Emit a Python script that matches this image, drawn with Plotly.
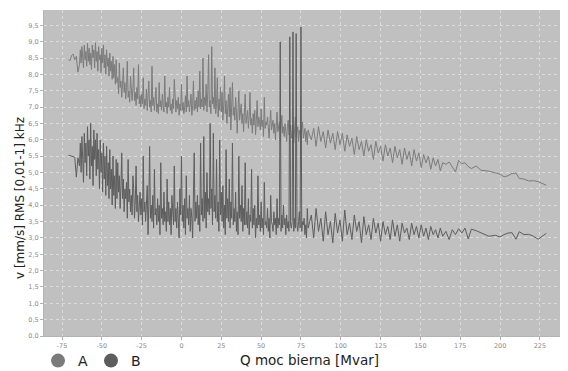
import plotly.graph_objects as go

# Q moc bierna [Mvar] (shared x values)
q = [
    -71, -70, -69, -68, -67, -66, -65,
    -64, -63.5, -63, -62.5, -62, -61.5, -61, -60.5, -60, -59.5,
    -59, -58.5, -58, -57.5, -57, -56.5, -56, -55.5, -55, -54.5,
    -54, -53.5, -53, -52.5, -52, -51.5, -51, -50.5, -50, -49.5,
    -49, -48.5, -48, -47.5, -47, -46.5, -46, -45.5, -45, -44.5,
    -44, -43.5, -43, -42.5, -42, -41.5, -41, -40.5,
    -40, -39.5, -39, -38.5, -38, -37.5, -37, -36.5, -36, -35.5,
    -35, -34.5, -34, -33.5, -33, -32.5, -32, -31.5, -31, -30.5,
    -30, -29.5, -29, -28.5, -28, -27.5, -27, -26.5, -26, -25.5,
    -25, -24.5, -24, -23.5, -23, -22.5, -22, -21.5, -21, -20.5,
    -20, -19.5, -19, -18.5, -18, -17.5, -17, -16.5, -16, -15.5,
    -15, -14.5, -14, -13.5, -13, -12.5, -12, -11.5, -11, -10.5,
    -10, -9.5, -9, -8.5, -8, -7.5, -7, -6.5, -6, -5.5,
    -5, -4.5, -4, -3.5, -3, -2.5, -2, -1.5, -1, -0.5,
    0, 0.5, 1, 1.5, 2, 2.5, 3, 3.5, 4, 4.5,
    5, 5.5, 6, 6.5, 7, 7.5, 8, 8.5, 9, 9.5,
    10, 10.5, 11, 11.5, 12, 12.5, 13, 13.5, 14, 14.5,
    15, 15.5, 16, 16.5, 17, 17.5, 18, 18.5, 19, 19.5,
    20, 20.5, 21, 21.5, 22, 22.5, 23, 23.5, 24, 24.5,
    25, 25.5, 26, 26.5, 27, 27.5, 28, 28.5, 29, 29.5,
    30, 30.5, 31, 31.5, 32, 32.5, 33, 33.5, 34, 34.5,
    35, 35.5, 36, 36.5, 37, 37.5, 38, 38.5, 39, 39.5,
    40, 40.5, 41, 41.5, 42, 42.5, 43, 43.5, 44, 44.5,
    45, 45.5, 46, 46.5, 47, 47.5, 48, 48.5, 49, 49.5,
    50, 50.5, 51, 51.5, 52, 52.5, 53, 53.5, 54, 54.5,
    55, 55.5, 56, 56.5, 57, 57.5, 58, 58.5, 59, 59.5,
    60, 60.5, 61, 61.5, 62, 62.5, 63, 63.5, 64, 64.5,
    65, 65.5, 66, 66.5, 67, 67.5, 68, 68.5, 69, 69.5,
    70, 70.5, 71, 71.5, 72, 72.5, 73, 73.5, 74, 74.5,
    75, 75.5, 76, 76.5, 77, 77.5, 78, 78.5, 79, 79.5,
    80,
    81.5, 83, 84.5, 86, 87.5, 89, 90.5, 92, 93.5, 95,
    96.5, 98, 99.5, 101, 102.5, 104, 105.5, 107, 108.5, 110,
    111.5, 113, 114.5, 116, 117.5, 119, 120.5, 122, 123.5, 125,
    126.5, 128, 129.5, 131, 132.5, 134, 135.5, 137, 138.5, 140,
    141.5, 143, 144.5, 146, 147.5, 149, 150.5, 152, 153.5, 155,
    156.5, 158, 159.5, 161, 162.5, 164,
    166, 168, 170, 172, 174, 176, 178, 180, 182, 185,
    188, 193, 197, 200, 202.5, 205, 207.5, 210, 212, 215,
    218, 221, 224, 229,
]

# Series A: v [mm/s] RMS
v_a = [
    8.48, 8.42, 8.58, 8.62, 8.45, 8.55, 8.07,
    8.3, 8.75, 8.35, 8.85, 8.5, 8.2, 8.9, 8.45, 8.7, 8.25,
    8.95, 8.4, 8.8, 8.3, 8.65, 8.15, 8.9, 8.5, 8.75, 8.2,
    8.97, 8.4, 8.7, 8.1, 8.85, 8.45, 8.6, 8.05, 8.8, 8.35,
    8.9, 8.2, 8.6, 8.0, 8.75, 8.25, 8.5, 7.95, 8.65, 8.1,
    8.4, 7.85, 8.55, 7.9, 8.3, 7.7, 8.45, 7.75,
    7.9, 7.4, 8.35, 7.6, 7.8, 7.3, 7.7, 8.2, 7.45, 7.75,
    7.25, 7.6, 8.4, 7.3, 7.5, 7.15, 7.95, 7.4, 7.2, 7.55,
    8.2, 7.2, 7.45, 7.05, 7.6, 7.25, 8.3, 7.1, 7.35, 7.0,
    7.4, 7.1, 7.9, 6.95, 7.25, 7.05, 7.55, 6.9, 7.3, 7.8,
    7.0, 7.2, 6.85, 8.25, 7.05, 7.3, 6.9, 7.15, 7.6, 6.85,
    7.1, 6.8, 7.75, 7.0, 7.2, 6.9, 7.4, 7.05, 6.85, 7.95,
    7.0, 7.15, 6.8, 7.3, 7.0, 7.6, 6.9, 7.1, 6.8, 7.25,
    6.95, 7.85, 7.0, 6.85, 7.2, 6.95, 7.3, 6.75, 7.1, 6.9,
    7.7, 6.9, 7.15, 6.8, 7.0, 7.35, 6.85, 7.95, 7.0, 7.2,
    6.85, 7.1, 7.4, 6.75, 7.05, 7.8, 6.9, 7.2, 6.95, 7.3,
    6.85, 7.5, 7.0, 8.1, 6.95, 7.25, 7.0, 8.5, 6.9, 7.3,
    7.05, 7.7, 6.85, 7.4, 8.6, 7.0, 7.2, 6.8, 8.85, 7.1,
    7.3, 6.95, 8.2, 6.8, 7.1, 7.9, 6.7, 7.25, 6.9, 7.6,
    6.85, 7.45, 6.6, 7.05, 7.95, 6.8, 7.2, 6.5, 7.0, 7.4,
    6.7, 7.6, 6.3, 6.95, 7.75, 6.75, 7.0, 6.6, 7.3, 6.85,
    6.2, 6.9, 7.5, 6.6, 6.85, 7.1, 6.5, 6.8, 6.25, 7.0,
    7.4, 6.5, 6.75, 6.9, 6.35, 6.7, 7.45, 6.45, 6.65, 6.2,
    6.8, 6.45, 6.9, 6.15, 6.6, 7.2, 6.4, 6.7, 6.55, 6.3,
    6.95, 6.4, 6.6, 6.1, 7.3, 6.35, 6.55, 6.45, 6.7, 6.2,
    6.05, 6.5, 6.9, 6.3, 6.45, 6.6, 6.2, 6.5, 6.0, 6.4,
    6.85, 6.25, 6.45, 6.55, 5.95, 6.35, 6.75, 6.2, 6.4, 6.1,
    6.5, 6.25, 5.95, 6.4, 6.6, 6.15, 6.3, 6.45, 6.05, 6.35,
    6.45, 5.9, 6.3, 6.7, 6.1, 6.25, 6.4, 5.95, 6.3, 6.15,
    5.9, 6.35, 6.55, 6.05, 6.2, 6.35, 5.95, 6.25, 5.85, 6.3,
    6.2,
    6.0, 6.35, 5.8, 6.4, 5.95, 6.25, 5.75, 6.3, 5.9, 6.2,
    5.7, 6.25, 5.85, 6.2, 5.65, 6.15, 5.8, 6.05, 5.55, 6.1,
    5.7, 5.95, 5.5, 6.0, 5.65, 5.85, 5.4, 5.95, 5.6, 5.8,
    5.35, 5.85, 5.5, 5.75, 5.3, 5.8, 5.45, 5.7, 5.25, 5.75,
    5.4, 5.65, 5.2, 5.7, 5.35, 5.6, 5.15, 5.55, 5.3, 5.5,
    5.1, 5.45, 5.2, 5.4, 5.05, 5.3,
    5.25, 5.32, 5.15, 5.02, 5.37, 5.27, 5.3, 5.18, 5.12, 5.2,
    5.07, 5.04, 4.99, 4.95, 4.87, 4.9, 4.97, 4.98, 4.82, 4.8,
    4.74, 4.75, 4.72, 4.61,
]

# Series B: v [mm/s] RMS
v_b = [
    5.53, 5.52, 5.5, 5.48, 5.47, 4.86, 5.45,
    5.2, 5.9, 5.0, 6.1, 5.4, 4.7, 6.2, 5.3, 5.9, 4.9,
    6.4, 5.5, 6.0, 4.8, 6.5, 5.2, 5.8, 4.6, 6.3, 5.4,
    6.0, 4.9, 6.2, 5.1, 5.7, 4.5, 6.0, 5.0, 5.6, 4.4,
    5.9, 4.8, 5.5, 4.3, 5.8, 4.6, 5.3, 4.2, 5.7, 4.5,
    5.1, 4.0, 5.5, 4.3, 4.9, 3.9, 5.4, 4.2,
    5.3, 4.4, 4.9, 3.9, 4.6, 5.6, 4.2, 4.8, 3.8, 4.5,
    4.2, 4.7, 3.6, 5.4, 4.1, 4.5, 3.8, 4.3, 3.7, 4.9,
    4.5, 3.6, 4.1, 5.2, 3.8, 4.3, 3.5, 4.0, 4.4, 3.7,
    4.2, 3.4, 5.5, 3.8, 4.1, 3.5, 3.9, 4.6, 3.1, 4.0,
    5.8, 3.6, 4.0, 3.5, 4.3, 3.3, 5.1, 3.7, 3.9, 3.4,
    4.2, 3.5, 4.0, 3.1, 5.3, 3.6, 3.9, 3.4, 4.4, 3.5,
    3.8, 3.2, 4.8, 3.5, 4.1, 3.4, 3.9, 3.1, 4.3, 3.6,
    3.4, 5.2, 3.5, 3.9, 3.3, 4.1, 3.6, 3.0, 4.5, 3.7,
    5.5, 3.5, 4.0, 3.3, 4.2, 3.1, 4.9, 3.6, 3.9, 3.4,
    4.3, 3.2, 3.9, 3.6, 3.0, 4.4, 5.6, 3.5, 4.1, 3.6,
    4.3, 3.4, 4.0, 3.2, 5.9, 3.7, 4.2, 3.5, 6.1, 3.6,
    4.4, 3.3, 5.0, 3.8, 4.2, 3.7, 6.5, 3.9, 4.5, 3.4,
    6.2, 3.8, 4.3, 3.6, 5.4, 3.5, 4.1, 3.2, 6.0, 3.7,
    4.4, 3.5, 4.6, 3.3, 4.0, 3.1, 5.7, 3.6, 4.2, 3.5,
    4.8, 3.3, 4.1, 3.6, 5.9, 3.4, 3.9, 3.5, 4.4, 3.2,
    3.8, 3.1, 5.5, 3.6, 4.0, 3.5, 4.6, 3.2, 3.9, 3.4,
    5.3, 3.4, 3.8, 3.3, 4.2, 3.1, 3.7, 3.5, 5.1, 3.3,
    3.9, 3.4, 4.0, 3.0, 3.6, 3.3, 4.9, 3.4, 3.7, 3.2,
    4.1, 3.3, 3.6, 3.1, 4.7, 3.4, 3.5, 3.3, 3.9, 3.2,
    3.6, 3.0, 4.3, 3.5, 3.4, 3.2, 3.8, 3.4, 3.6, 3.1,
    4.2, 3.3, 3.6, 3.4, 9.0, 3.2, 3.7, 3.3, 4.0, 3.4,
    3.6, 3.1, 3.7, 3.3, 3.5, 3.2, 9.15, 3.4, 3.3, 3.5,
    9.3, 3.2, 3.6, 3.3, 9.25, 3.4, 3.2, 3.5, 3.8, 3.3,
    9.45, 3.2, 3.5, 3.4, 3.6, 3.1, 3.4, 3.0, 3.9, 3.3,
    3.4,
    3.7, 3.0, 3.9, 3.2, 3.6, 2.9, 3.8, 3.1, 3.5, 2.85,
    3.75, 3.15, 3.55, 2.9, 3.85, 3.1, 3.45, 2.95, 3.7, 3.2,
    3.5, 2.85, 3.65, 3.1, 3.4, 2.95, 3.6, 3.15, 3.45, 2.9,
    3.5, 3.1, 3.35, 2.95, 3.55, 3.05, 3.4, 2.9, 3.45, 3.15,
    3.3, 2.95, 3.45, 3.1, 3.35, 3.0, 3.4, 3.05, 3.3, 2.95,
    3.35, 3.1, 3.25, 3.0, 3.3, 3.05,
    3.2, 2.95, 3.25, 3.1, 3.28, 3.15, 3.3, 2.97, 3.27, 3.22,
    3.15, 3.05, 3.08, 3.03, 3.1, 3.15, 3.16, 2.96, 3.19, 3.1,
    3.11, 3.05, 2.96, 3.14,
]

assert len(q) == len(v_a) == len(v_b), (len(q), len(v_a), len(v_b))

series_names = ["A", "B"]
series_colors = ["#7b7b7b", "#5d5d5d"]
legend_ids = ["legend", "legend2"]

x_tick_vals = [-75, -50, -25, 0, 25, 50, 75, 100, 125, 150, 175, 200, 225]
x_tick_text = ["-75", "-50", "-25", "0", "25", "50", "75", "100", "125", "150", "175", "200", "225"]
y_tick_vals = [0, 0.5, 1, 1.5, 2, 2.5, 3, 3.5, 4, 4.5, 5, 5.5, 6, 6.5, 7, 7.5, 8, 8.5, 9, 9.5]
y_tick_text = ["0,0", "0,5", "1,0", "1,5", "2,0", "2,5", "3,0", "3,5", "4,0", "4,5",
               "5,0", "5,5", "6,0", "6,5", "7,0", "7,5", "8,0", "8,5", "9,0", "9,5"]

x_title = "Q moc bierna [Mvar]"
y_title = "v [mm/s] RMS [0,01-1] kHz"

fig = go.Figure()
for name, vals, col in zip(series_names, [v_a, v_b], series_colors):
    fig.add_trace(go.Scatter(x=q, y=vals, mode="lines", name=name,
                             line=dict(color=col, width=1), showlegend=False,
                             hoverinfo="skip"))
for name, col, lg in zip(series_names, series_colors, legend_ids):
    fig.add_trace(go.Scatter(x=[None], y=[None], mode="markers", name=name,
                             marker=dict(color=col, size=14), showlegend=True,
                             legend=lg))

axis_common = dict(
    showgrid=True, gridcolor="#dcdcdc", griddash="dot", gridwidth=1,
    ticks="outside", ticklen=3, tickcolor="#b0b0b0",
    showline=True, linecolor="#b4b4b4", linewidth=1,
    zeroline=False, automargin=False,
    tickfont=dict(size=6.5, color="#8a8a8a", family="DejaVu Sans"),
)

legend_common = dict(orientation="h", xref="container", yref="container",
                     xanchor="left", y=0.0275, yanchor="middle",
                     font=dict(size=14, color="#222222"), bgcolor="rgba(0,0,0,0)")

# The page body adds an 8px offset, so the figure is sized to the remaining window.
fig.update_layout(
    width=560, height=363,
    margin=dict(l=36, r=5, t=2, b=35),
    paper_bgcolor="white", plot_bgcolor="#c0c0c0",
    font=dict(family="DejaVu Sans", color="#222222"),
    xaxis=dict(range=[-86.3, 239.5], tickmode="array", tickvals=x_tick_vals,
               ticktext=x_tick_text, **axis_common),
    yaxis=dict(range=[0, 9.97], tickmode="array", tickvals=y_tick_vals,
               ticktext=y_tick_text, **axis_common),
    legend=dict(x=0.0536, **legend_common),
    legend2=dict(x=0.1482, **legend_common),
    annotations=[
        dict(text=x_title, xref="paper", yref="paper", x=0.5125, y=-0.0736,
             xanchor="center", yanchor="middle", showarrow=False,
             font=dict(size=13.5, color="#222222")),
        dict(text=y_title, xref="paper", yref="paper", x=-0.0462, y=0.4233,
             xanchor="center", yanchor="middle", showarrow=False, textangle=-90,
             font=dict(size=12, color="#222222")),
    ],
    showlegend=True,
)

fig.write_html("out.html")
